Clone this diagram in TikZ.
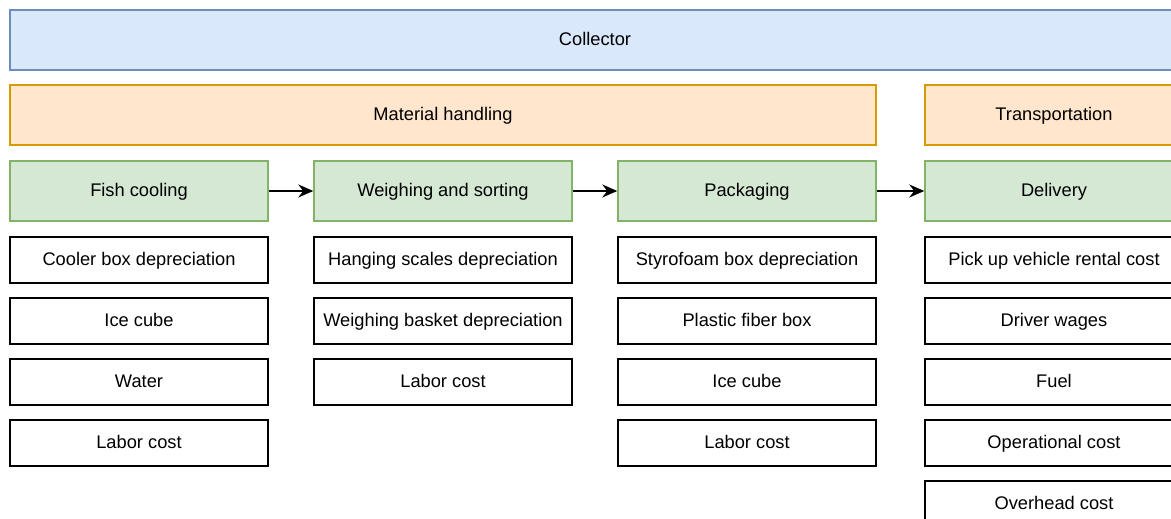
\documentclass[tikz,border=0pt]{standalone}
\usepackage{fontspec}
\setmainfont{Liberation Sans}
\usetikzlibrary{arrows.meta}
\definecolor{blueFill}{HTML}{DAE8FC}
\definecolor{blueLine}{HTML}{6C8EBF}
\definecolor{orangeFill}{HTML}{FFE6CC}
\definecolor{orangeLine}{HTML}{D79B00}
\definecolor{greenFill}{HTML}{D5E8D4}
\definecolor{greenLine}{HTML}{82B366}
\begin{document}
\begin{tikzpicture}[x=0.02cm,y=-0.02cm]
  \tikzset{ top/.style={draw=blueLine,fill=blueFill,line width=0.85pt,minimum width=23.4cm,minimum height=1.2cm},
    grp/.style={draw=orangeLine,fill=orangeFill,line width=0.85pt,minimum height=1.2cm},
    stage/.style={draw=greenLine,fill=greenFill,line width=0.85pt,minimum width=5.16cm,minimum height=1.2cm},
    item/.style={draw=black,line width=1.1pt,minimum width=5.16cm,minimum height=0.92cm},
    every node/.style={font=\fontsize{10.4}{12}\selectfont,inner sep=0pt,text height=8.5pt,text depth=2.2pt},
    flow/.style={line width=0.85pt,-{Stealth[length=0.3cm,width=0.26cm]}},
  }
  \useasboundingbox (0,0) rectangle (1171,519);
  \clip (0,0) rectangle (1171,519);

  \node (collector) at (595,40) [top] {Collector};
  \node (matl) at (443,115) [grp,minimum width=17.32cm] {Material handling};
  \node (transp) at (1054,115) [grp,minimum width=5.16cm] {Transportation};

  \node (cool) at (139,191) [stage] {Fish cooling};
  \node (weigh) at (443,191) [stage] {Weighing and sorting};
  \node (pack) at (747,191) [stage] {Packaging};
  \node (deliv) at (1054,191) [stage] {Delivery};

  \draw[flow] (cool) -- (weigh);
  \draw[flow] (weigh) -- (pack);
  \draw[flow] (pack) -- (deliv);

  % fish cooling
  \node (cool1) at (139,260) [item] {Cooler box depreciation};
  \node (cool2) at (139,321) [item] {Ice cube};
  \node (cool3) at (139,382) [item] {Water};
  \node (cool4) at (139,443) [item] {Labor cost};

  % weighing and sorting
  \node (weigh1) at (443,260) [item] {Hanging scales depreciation};
  \node (weigh2) at (443,321) [item] {Weighing basket depreciation};
  \node (weigh3) at (443,382) [item] {Labor cost};

  % packaging
  \node (pack1) at (747,260) [item] {Styrofoam box depreciation};
  \node (pack2) at (747,321) [item] {Plastic fiber box};
  \node (pack3) at (747,382) [item] {Ice cube};
  \node (pack4) at (747,443) [item] {Labor cost};

  % delivery
  \node (deliv1) at (1054,260) [item] {Pick up vehicle rental cost};
  \node (deliv2) at (1054,321) [item] {Driver wages};
  \node (deliv3) at (1054,382) [item] {Fuel};
  \node (deliv4) at (1054,443) [item] {Operational cost};
  \node (deliv5) at (1054,504) [item] {Overhead cost};
\end{tikzpicture}
\end{document}
